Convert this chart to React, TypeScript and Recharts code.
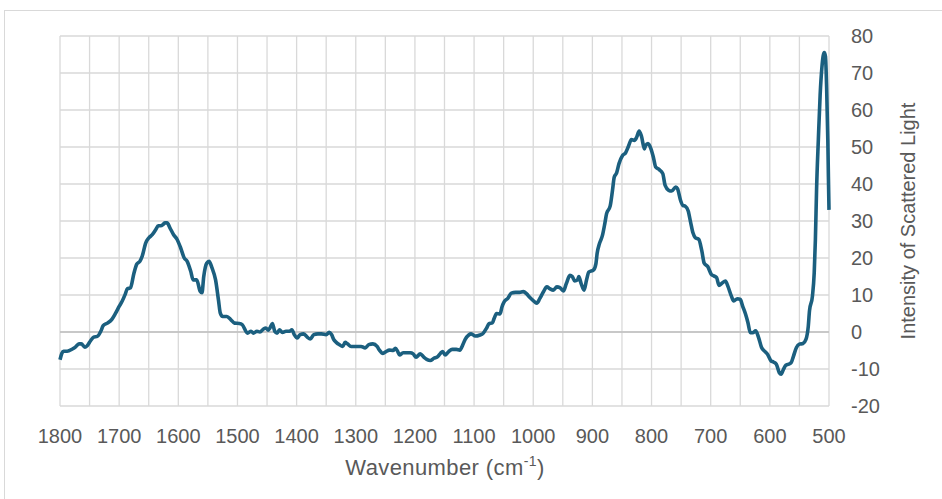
import React from 'react';
import { LineChart, Line, XAxis, YAxis, CartesianGrid, ReferenceLine } from 'recharts';

const wavenumbers: number[] = [
  1800, 1797, 1794, 1788, 1779, 1774, 1768, 1764, 1758, 1754, 1748, 1743, 1737, 1731, 1727, 1720, 1712, 1706, 1700, 1695,
  1690, 1686, 1681, 1675, 1670, 1665, 1661, 1655, 1650, 1644, 1638, 1634, 1630, 1626, 1623, 1619, 1614, 1608, 1602, 1596,
  1590, 1585, 1579, 1575, 1569, 1563, 1560, 1557, 1552, 1548, 1543, 1537, 1532, 1529, 1525, 1518, 1511, 1505, 1497, 1492,
  1483, 1477, 1473, 1467, 1462, 1456, 1452, 1448, 1445, 1441, 1437, 1433, 1429, 1424, 1418, 1412, 1408, 1404, 1399, 1394,
  1388, 1382, 1377, 1371, 1364, 1358, 1350, 1345, 1341, 1337, 1333, 1328, 1322, 1318, 1314, 1308, 1299, 1291, 1284, 1278,
  1271, 1264, 1260, 1254, 1249, 1243, 1237, 1233, 1229, 1226, 1220, 1215, 1208, 1203, 1198, 1191, 1185, 1180, 1174, 1168,
  1162, 1157, 1153, 1149, 1143, 1137, 1130, 1124, 1120, 1115, 1109, 1105, 1098, 1090, 1085, 1079, 1075, 1069, 1066, 1062,
  1056, 1053, 1049, 1043, 1037, 1030, 1023, 1017, 1011, 1006, 1000, 994, 989, 983, 977, 972, 966, 960, 955, 949,
  944, 938, 934, 930, 925, 923, 919, 914, 910, 906, 898, 894, 892, 888, 883, 879, 876, 870, 866, 863,
  859, 855, 849, 844, 839, 834, 829, 825, 821, 817, 812, 810, 806, 801, 797, 793, 787, 781, 777, 771,
  766, 759, 756, 751, 747, 743, 738, 734, 730, 726, 720, 715, 711, 705, 699, 694, 690, 686, 681, 675,
  671, 665, 661, 655, 650, 646, 641, 637, 633, 629, 624, 619, 614, 608, 604, 598, 594, 589, 584, 581,
  577, 573, 568, 564, 560, 555, 550, 544, 539, 535, 533, 528, 525, 523, 521, 518, 515, 512, 510, 508,
  506, 504, 502, 501, 500,
];

const intensity: number[] = [
  -7.5, -5.8, -5.2, -5.2, -4.6, -4.1, -3.2, -3.2, -4.1, -3.7, -2.3, -1.4, -1.2, 0.2, 1.7, 2.4, 3.5, 5.1, 6.9, 8.3,
  10.1, 11.7, 11.9, 15.9, 18.4, 19.1, 20.5, 24.1, 25.4, 26.3, 27.7, 28.7, 28.7, 29.0, 29.5, 29.5, 28.1, 26.3, 25.0, 22.7,
  20.0, 19.1, 16.4, 14.1, 14.1, 11.0, 10.6, 15.0, 18.6, 19.1, 17.3, 14.1, 8.5, 5.1, 4.2, 4.2, 3.3, 2.4, 2.3, 2.0,
  -0.3, 0.2, -0.3, 0.2, 0.0, 0.8, 1.1, 0.5, 1.1, 2.3, 0.2, -0.3, 0.6, -0.1, 0.2, 0.2, 0.6, -0.7, -1.6, -0.7,
  -0.5, -1.4, -1.9, -0.7, -0.5, -0.5, -0.7, -0.1, -0.7, -2.1, -2.8, -3.4, -3.9, -2.8, -3.2, -3.9, -3.9, -3.9, -4.3, -3.4,
  -3.2, -3.9, -4.9, -5.8, -5.3, -4.9, -5.0, -4.4, -5.3, -6.2, -5.6, -5.6, -5.6, -5.9, -6.8, -5.9, -6.8, -7.4, -7.7, -7.1,
  -6.7, -5.8, -5.3, -6.2, -5.3, -4.7, -4.7, -4.9, -3.8, -2.0, -0.8, -0.5, -1.1, -0.8, -0.4, 1.0, 2.2, 2.5, 3.7, 5.0,
  4.9, 6.7, 8.2, 9.1, 10.5, 10.7, 10.7, 10.9, 10.3, 9.4, 8.5, 7.8, 9.0, 10.8, 12.2, 11.7, 11.3, 12.2, 12.0, 11.1,
  13.1, 15.3, 15.0, 13.8, 14.1, 15.0, 13.1, 11.3, 14.0, 16.2, 16.8, 18.5, 21.2, 23.9, 26.1, 29.3, 32.0, 34.0, 38.3, 41.9,
  43.0, 45.5, 47.7, 48.4, 50.2, 52.0, 51.8, 52.7, 54.3, 52.9, 49.5, 50.4, 50.9, 49.5, 47.3, 44.6, 43.9, 42.8, 39.6, 38.3,
  38.1, 39.2, 38.7, 35.6, 34.2, 34.0, 32.7, 29.7, 26.8, 25.5, 25.0, 21.9, 18.6, 17.7, 15.6, 15.1, 14.7, 12.6, 13.2, 13.8,
  12.4, 9.7, 8.4, 9.0, 8.8, 7.0, 4.8, 2.5, -0.2, -0.2, 0.3, -1.5, -4.2, -5.3, -6.0, -7.8, -8.1, -8.7, -11.0, -11.4,
  -10.1, -9.0, -8.7, -8.3, -6.5, -4.2, -3.3, -3.1, -2.0, 1.6, 5.7, 9.7, 16.0, 25.0, 38.6, 52.0, 64.0, 71.5, 74.5, 75.5,
  74.5, 66.0, 52.0, 42.0, 33.0,
];

const xTicks: number[] = [
  1800, 1750, 1700, 1650, 1600, 1550, 1500, 1450, 1400, 1350, 1300, 1250, 1200, 1150, 1100, 1050, 1000, 950, 900, 850,
  800, 750, 700, 650, 600, 550, 500,
];
const yTicks: number[] = [-20, -10, 0, 10, 20, 30, 40, 50, 60, 70, 80];

const xTitle = 'Wavenumber (cm';
const xTitleSup = '-1';
const yTitle = 'Intensity of Scattered Light';

const data = wavenumbers.map((w, i) => ({ w, v: intensity[i] }));

const FONT = '"Liberation Sans", Arial, sans-serif';
const TEXT = '#595959';

export default function App() {
  return (
    <div style={{ position: 'absolute', left: 0, top: 0, width: 942, height: 499, background: '#fff', overflow: 'hidden' }}>
      <div
        style={{
          position: 'absolute',
          left: 4,
          top: 10,
          width: 960,
          height: 520,
          borderLeft: '1px solid #d9d9d9',
          borderTop: '1px solid #d9d9d9',
        }}
      />
      <LineChart
        width={942}
        height={499}
        data={data}
        margin={{ top: 36, left: 60, right: 33, bottom: 33 }}
        style={{ position: 'absolute', left: 0, top: 0, fontFamily: FONT }}
      >
        <CartesianGrid stroke="#d9d9d9" strokeWidth={1.3} />
        <XAxis
          dataKey="w"
          type="number"
          domain={[500, 1800]}
          reversed
          ticks={xTicks}
          interval={0}
          tickFormatter={(v: number) => (v % 100 === 0 ? String(v) : '')}
          axisLine={false}
          tickLine={false}
          tickSize={0}
          tickMargin={23}
          height={60}
          tick={{ fill: TEXT, fontSize: 20, fontFamily: FONT }}
          label={{
            content: () => (
              <text x={445} y={475} textAnchor="middle" fill={TEXT} fontSize={22} fontFamily={FONT} letterSpacing={0.4}>
                <tspan>{xTitle}</tspan>
                <tspan fontSize={14} dy={-9}>{xTitleSup}</tspan>
                <tspan dy={9}>)</tspan>
              </text>
            ),
          }}
        />
        <YAxis
          orientation="right"
          type="number"
          domain={[-20, 80]}
          ticks={yTicks}
          interval={0}
          axisLine={false}
          tickLine={false}
          tickSize={0}
          tickMargin={22}
          width={80}
          tick={{ fill: TEXT, fontSize: 20, fontFamily: FONT, textAnchor: 'start' }}
          label={{
            content: () => (
              <text
                x={915}
                y={221}
                textAnchor="middle"
                fill={TEXT}
                fontSize={20}
                fontFamily={FONT}
                transform="rotate(-90 915 221)"
              >
                {yTitle}
              </text>
            ),
          }}
        />
        <ReferenceLine y={0} stroke="#bfbfbf" strokeWidth={1.3} />
        <Line
          type="monotone"
          dataKey="v"
          stroke="#1b5f7f"
          strokeWidth={3.6}
          dot={false}
          isAnimationActive={false}
        />
      </LineChart>
    </div>
  );
}
